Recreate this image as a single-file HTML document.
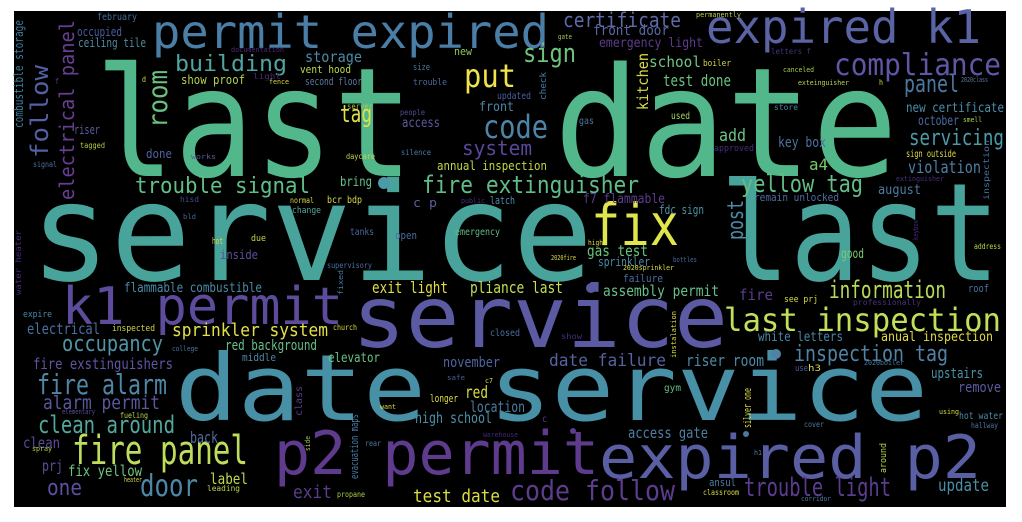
<!DOCTYPE html>
<html><head><meta charset="utf-8">
<style>
html,body{margin:0;padding:0;background:#fff;width:1022px;height:522px;overflow:hidden}
svg{display:block}
text{font-family:"DejaVu Sans Mono","Liberation Mono",monospace}
</style></head>
<body>
<svg id="cloud" width="1022" height="522" viewBox="0 0 1022 522" xmlns="http://www.w3.org/2000/svg">
<rect x="14" y="11" width="992" height="496" fill="#000"/>
</svg>
<script>
// horizontal words: text, left x, baseline y, font size, width, colour
const hWords = [
["last",95,176,152,318,"#52b88c"],["date",554,176,152,344,"#52b88c"],
["service",30,280,136,563,"#48a39b"],["last",720,280,136,280,"#48a39b"],
["service",352,347,86,376,"#5c5aa3"],["date service",175,420,92,753,"#4790a6"],
["permit expired",152,48,46,397,"#4a7ea6"],["expired k1",706,43,46,275,"#5a63a4"],
["k1 permit",62,324,52,281,"#5d4b9b"],["p2 permit",274,474,60,325,"#5e3b8d"],
["expired p2",599,478,60,382,"#5a5ea3"],["fix",591,245,58,88,"#e1e54c"],
["put",464,87,32,52,"#f0e24a"],["code",483,138,32,65,"#4c85a8"],
["compliance",834,75,30,167,"#5f56a4"],["panel",904,92,24,55,"#4b78a3"],
["certificate",563,27,20,118,"#5f6aa6"],["sign",523,62,26,53,"#6fc37e"],
["building",175,71,22,112,"#4fa3a0"],["storage",305,62,15,57,"#4b8aa6"],
["tag",340,122,24,32,"#e0e04a"],["system",462,155,20,70,"#59479a"],
["trouble signal",135,193,22,175,"#5fbf86"],["fire extinguisher",422,193,24,217,"#60bb88"],
["yellow tag",741,192,24,122,"#62bd85"],["servicing",909,145,22,95,"#4b9ba8"],
["violation",908,173,17,73,"#4d80a4"],["information",829,298,24,117,"#b8db57"],
["last inspection",724,331,32,277,"#c2df5a"],["inspection tag",794,361,22,154,"#4f82a5"],
["fire alarm",37,394,28,130,"#4f87a6"],["clean around",38,433,24,137,"#52a79c"],
["fire panel",72,464,40,176,"#bedd5c"],["door",140,496,30,58,"#4e87a7"],
["code follow",510,500,28,165,"#5c3c8d"],["trouble light",744,496,26,147,"#5b3c8e"],
["occupancy",62,351,22,101,"#4f95a7"],["sprinkler system",172,336,18,156,"#e3e04a"],
["one",47,495,22,35,"#5d4e9e"],["test date",413,502,18,87,"#dcdc46"],
["front door",593,35,14,76,"#5a68a3"],["emergency light",599,47,13,104,"#5e3b8d"],
["school",649,67,15,52,"#6fc583"],["boiler",703,66,9,28,"#d0d54a"],
["test done",663,86,16,68,"#6bc382"],["gas",579,124,10,15,"#4b77a0"],
["used",671,119,10,19,"#a6d35a"],["add",719,141,17,27,"#6bc58a"],
["a4",809,170,16,19,"#7ac96e"],["key box",778,147,14,48,"#4c72a2"],
["approved",714,151,9,40,"#4b2d80"],["letters f",771,54,8,40,"#46307e"],
["canceled",783,72,7,31,"#a6cf4e"],["exteinguisher",798,85,7,51,"#b8d64c"],
["h",879,85,8,4,"#dcdc45"],["2020class",961,82,7,27,"#5f79a0"],
["store",774,110,8,24,"#4a88a6"],["new certificate",906,112,13,98,"#4a8ea8"],
["october",918,125,13,41,"#4c6aa1"],["smell",963,122,7,19,"#a3d352"],
["sign outside",906,157,10,50,"#dfdc3f"],["extinguisher",896,181,7,48,"#4b2e80"],
["august",878,194,13,43,"#4e7ba3"],["f7 flammable",583,203,13,82,"#5d3b8f"],
["remain unlocked",754,201,11,85,"#4e6ca1"],["fdc sign",659,214,12,45,"#4c93a6"],
["high",588,245,7,15,"#dcdc45"],["gas test",587,256,15,61,"#69c580"],
["2020fire",551,260,7,25,"#dcdc45"],["sprinkler",598,266,12,52,"#4a8aa7"],
["bottles",673,262,7,24,"#4a6aa0"],["good",841,258,13,23,"#7ac86f"],
["address",974,249,8,27,"#b7d74b"],["permanently",696,17,7,45,"#b8d048"],
["gate",558,39,7,14,"#a3c84d"],["february",97,20,10,40,"#41709b"],
["occupied",77,36,12,45,"#4a5c9e"],["ceiling tile",78,47,12,68,"#4d8aa3"],
["documentation",231,52,7,53,"#4b2a7c"],["vent hood",300,73,11,51,"#b8d94a"],
["show proof",181,84,12,64,"#b3d34c"],["light",253,79,8,28,"#462a78"],
["fence",269,84,7,20,"#d8d845"],["second floor",305,85,11,57,"#5b7aa3"],
["d",142,82,8,4,"#dcdc45"],["f",55,84,8,4,"#5b3c8e"],
["riser",74,134,12,26,"#5b5e9e"],["tagged",80,148,8,25,"#b5c946"],
["signal",33,167,8,24,"#4e6fa0"],["done",146,158,12,26,"#53609f"],
["works",191,159,7,25,"#5a5a9a"],["bring",340,186,13,32,"#68c08a"],
["daycare",346,159,8,29,"#c8d24a"],["hisd",180,202,8,19,"#404e8c"],
["normal",290,203,8,24,"#d8d845"],["bcr bdp",327,203,10,35,"#d3db46"],
["change",292,213,9,29,"#5aa59e"],["bld",183,219,7,13,"#3f6a92"],
["c p",413,207,12,24,"#5d5da0"],["public",461,203,7,24,"#4b2e7d"],
["latch",490,204,11,25,"#4d8ca8"],["tanks",350,235,10,24,"#49689f"],
["open",395,239,11,22,"#4a6ba1"],["emergency",455,235,10,45,"#63b985"],
["due",251,241,9,15,"#cbd347"],["hot",212,244,9,11,"#dcdc45"],
["inside",220,259,12,38,"#5a4f9b"],["server",347,109,8,26,"#a6cc4b"],
["people",400,115,8,25,"#4b4f94"],["silence",401,155,8,30,"#4a7ba2"],
["access",402,127,13,38,"#5c5ba0"],["size",413,70,9,17,"#4d7ea3"],
["trouble",413,85,9,34,"#4c6a9e"],["new",454,55,11,18,"#8ec85a"],
["updated",497,99,10,34,"#4a5f9e"],["front",479,111,13,35,"#4e87a5"],
["annual inspection",437,170,12,110,"#c4d744"],["supervisory",327,268,8,45,"#4a70a0"],
["flammable combustible",124,292,13,138,"#4b8aa6"],["expire",23,317,9,29,"#4a8aa6"],
["electrical",27,334,15,73,"#4b6fa1"],["inspected",112,331,9,43,"#cfd646"],
["church",333,330,8,24,"#d8d845"],["college",172,351,7,26,"#4a78a2"],
["red background",225,350,14,92,"#66c089"],["fire exstinguishers",33,369,15,140,"#5e56a0"],
["middle",242,361,11,34,"#4e83a4"],["elevator",328,362,13,52,"#69c184"],
["closed",490,336,10,30,"#4b6ca0"],["november",443,367,14,57,"#4f64a1"],
["alarm permit",43,409,19,117,"#57599e"],["safe",447,380,7,18,"#4a5d9a"],
["c7",485,383,7,8,"#dcdc45"],["longer",430,402,11,28,"#dbdd44"],
["red",465,398,17,23,"#dcdc45"],["location",470,412,15,55,"#4a7ca4"],
["high school",415,423,15,77,"#4b90a6"],["elementary",62,414,7,33,"#5b4d9c"],
["fueling",120,418,8,28,"#b7d34d"],["want",380,409,7,16,"#dcdc45"],
["rear",365,446,8,16,"#4a7aa0"],["back",190,443,16,28,"#4f6ba2"],
["clean",23,448,15,37,"#5c4a9b"],["spray",32,451,7,20,"#b2d14a"],
["warehouse",483,437,7,35,"#442a79"],["prj",42,471,15,21,"#5d4b9c"],
["fix yellow",68,476,15,74,"#70c47e"],["label",210,484,15,38,"#bfd84f"],
["heater",124,482,7,18,"#dcdc45"],["leading",207,491,8,33,"#b7d34d"],
["exit",293,498,18,39,"#5b3c8e"],["propane",337,497,8,28,"#a9cf4a"],
["exit light",372,293,16,76,"#dfdf45"],["pliance last",470,293,16,93,"#c5df55"],
["2020sprinkler",623,270,7,51,"#dcdc45"],["failure",623,282,11,40,"#4a6e9f"],
["assembly permit",603,296,15,116,"#66c08a"],["roof",968,292,11,21,"#4a70a1"],
["fire",739,300,15,34,"#5c3c8e"],["see prj",784,302,9,34,"#dcdc45"],
["professionally",853,305,8,68,"#4a2e7d"],["white letters",758,341,13,85,"#4a87a6"],
["anual inspection",881,341,13,112,"#e0d946"],["show",561,339,8,21,"#4a2d7d"],
["date failure",549,366,17,117,"#5762a1"],["riser room",686,366,16,78,"#4b8aa6"],
["use",795,371,9,13,"#4a5c9a"],["h3",808,371,9,13,"#dcdc45"],
["2020boiler",864,365,7,40,"#4a7aa2"],["upstairs",931,378,14,52,"#4c92a6"],
["remove",958,392,14,43,"#5b5aa0"],["gym",664,391,10,17,"#61b985"],
["using",939,414,7,20,"#dcdc45"],["hot water",959,419,10,44,"#4d8aa4"],
["hallway",971,428,8,27,"#4c73a2"],["cover",804,427,8,20,"#4a7aa0"],
["access gate",628,438,15,80,"#4e7ea4"],["c",542,422,10,5,"#5c3c8e"],
["h1",754,455,7,8,"#4a7aa0"],["ansul",709,486,11,27,"#4b7aa2"],
["classroom",703,495,8,36,"#dcdc45"],["update",938,491,17,51,"#4b8fa6"],
["corridor",801,501,7,30,"#4a7aa2"]
];
// vertical words: text, baseline x, bottom y, font size, length, colour
const vWords = [
["combustible storage",23,128,12,108,"#3e7e9a"],["follow",48,158,24,93,"#5360a2"],
["electrical panel",74,200,20,180,"#683e92"],["room",167,128,27,58,"#6ac07e"],
["kitchen",648,110,15,57,"#d7dc44"],["check",546,100,9,28,"#477ea6"],
["post",743,240,22,40,"#4c8aa6"],["inspection",989,200,8,60,"#4b70a0"],
["keybox",918,240,7,20,"#442a7e"],["water heater",21,295,8,65,"#452d7e"],
["fixed",343,295,7,25,"#4a7aa0"],["class",302,416,10,30,"#5b3c8f"],
["evacuation maps",358,479,11,65,"#4a7aa2"],["side",310,451,7,15,"#a6cc4b"],
["instalation",676,358,7,47,"#dcdc45"],["silver one",751,428,11,40,"#dcdc45"],
["around",886,473,9,30,"#b2d44c"]
];
const dots = [[384,183,6,"#4a9aa8"],[591,288,5,"#5a5aa0"],[776,354,5,"#4f82a5"],[573,431,3,"#5c3c8e"],[746,434,3,"#4a7aa2"]];

const NS = "http://www.w3.org/2000/svg";
const svg = document.getElementById("cloud");
function slug(t){return "word-" + t.replace(/[^a-z0-9]+/gi,"-").toLowerCase();}
hWords.forEach(w => {
  const t = document.createElementNS(NS, "text");
  t.setAttribute("x", w[1]);
  t.setAttribute("y", w[2]);
  t.setAttribute("font-size", w[3]);
  t.setAttribute("textLength", w[4]);
  t.setAttribute("lengthAdjust", "spacingAndGlyphs");
  t.setAttribute("fill", w[5]);
  
  
  t.textContent = w[0];
  svg.appendChild(t);
});
vWords.forEach(w => {
  const t = document.createElementNS(NS, "text");
  t.setAttribute("x", 0);
  t.setAttribute("y", 0);
  t.setAttribute("transform", "translate(" + w[1] + "," + w[2] + ") rotate(-90)");
  t.setAttribute("font-size", w[3]);
  t.setAttribute("textLength", w[4]);
  t.setAttribute("lengthAdjust", "spacingAndGlyphs");
  t.setAttribute("fill", w[5]);
  
  
  t.textContent = w[0];
  svg.appendChild(t);
});
dots.forEach(d => {
  const c = document.createElementNS(NS, "circle");
  c.setAttribute("cx", d[0]);
  c.setAttribute("cy", d[1]);
  c.setAttribute("r", d[2]);
  c.setAttribute("fill", d[3]);
  
  
  svg.appendChild(c);
});
</script>
</body></html>
